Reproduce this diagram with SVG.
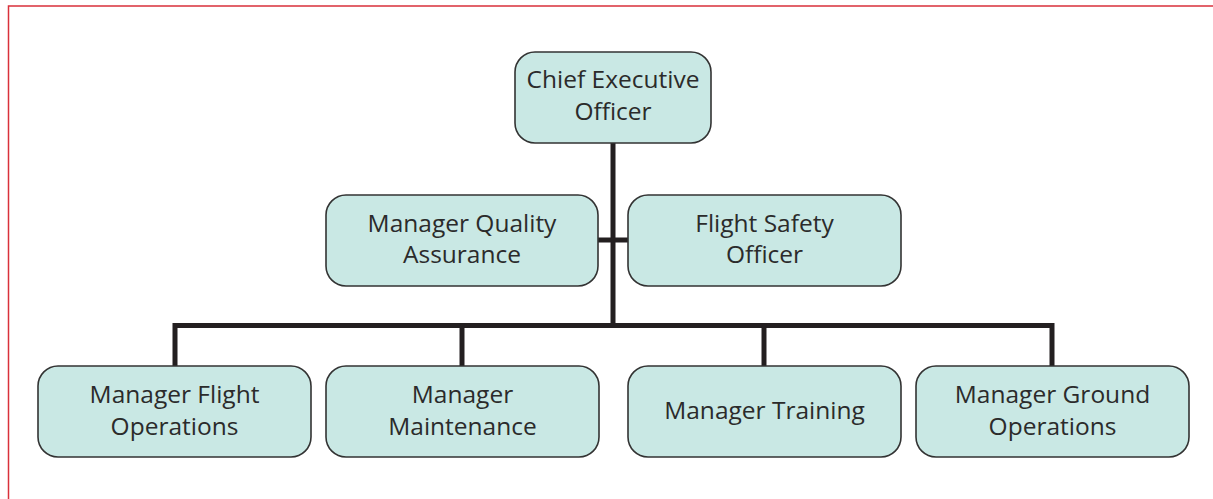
<svg xmlns="http://www.w3.org/2000/svg" width="1213" height="499" viewBox="0 0 1213 499">
<style>
.box{fill:#c9e8e4;stroke:#333;stroke-width:1.6}
.lbl{font-family:"Open Sans","Noto Sans",sans-serif;font-size:24.5px;fill:#2b2b2b;text-anchor:middle}
.con{fill:none;stroke:#231f20;stroke-width:5;stroke-linecap:square}
</style>
<rect width="1213" height="499" fill="#fff"/>
<path d="M8.5,499 V6 H1213" fill="none" stroke="#d9313b" stroke-width="1.5"/>
<g id="connectors">
<path class="con" d="M613,143 V325.5"/>
<path class="con" d="M598,240 H628" stroke-linecap="butt"/>
<path class="con" d="M175,366 V325.5 H1052 V366" stroke-linejoin="miter"/>
<path class="con" d="M462,325.5 V366" stroke-linecap="butt"/>
<path class="con" d="M764,325.5 V366" stroke-linecap="butt"/>
</g>
<g id="ceo">
<rect class="box" x="515" y="52" width="196" height="91" rx="20"/>
<text class="lbl" x="613" y="88">Chief Executive</text>
<text class="lbl" x="613" y="120">Officer</text>
</g>
<g id="qa">
<rect class="box" x="326" y="195" width="272" height="91" rx="20"/>
<text class="lbl" x="462" y="232">Manager Quality</text>
<text class="lbl" x="462" y="263">Assurance</text>
</g>
<g id="fso">
<rect class="box" x="628" y="195" width="273" height="91" rx="20"/>
<text class="lbl" x="764.5" y="232">Flight Safety</text>
<text class="lbl" x="764.5" y="263">Officer</text>
</g>
<g id="flightops">
<rect class="box" x="38" y="366" width="273" height="91" rx="20"/>
<text class="lbl" x="174.5" y="403">Manager Flight</text>
<text class="lbl" x="174.5" y="435">Operations</text>
</g>
<g id="maintenance">
<rect class="box" x="326" y="366" width="273" height="91" rx="20"/>
<text class="lbl" x="462.5" y="403">Manager</text>
<text class="lbl" x="462.5" y="435">Maintenance</text>
</g>
<g id="training">
<rect class="box" x="628" y="366" width="273" height="91" rx="20"/>
<text class="lbl" x="764.5" y="419">Manager Training</text>
</g>
<g id="groundops">
<rect class="box" x="916" y="366" width="273" height="91" rx="20"/>
<text class="lbl" x="1052.5" y="403">Manager Ground</text>
<text class="lbl" x="1052.5" y="435">Operations</text>
</g>
</svg>
